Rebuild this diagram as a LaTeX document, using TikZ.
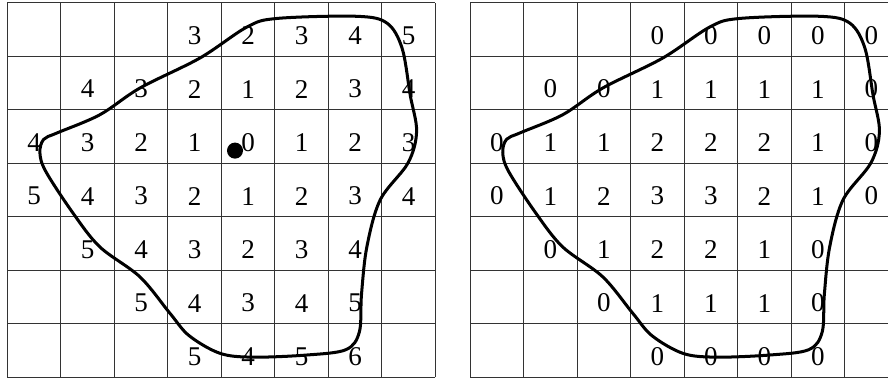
\documentclass[tikz,border=0pt]{standalone}
\usepackage{fontspec}
\setmainfont{Liberation Serif}
\usetikzlibrary{positioning}

\tikzset{
  num/.style={font=\fontsize{14.4}{17}\selectfont, inner sep=0pt},
  gridlines/.style={draw=black!80, line width=0.55pt},
  blob/.style={line width=1.6pt, line join=round}
}
% closed region drawn over each grid
\newcommand{\blobline}{%
  \draw[blob] plot[smooth cycle, tension=0.55] coordinates {
    (0.93,4.57) (0.68,4.45) (0.61,4.20) (0.72,3.85) (1.23,3.07)
    (1.73,2.44) (2.48,1.88) (3.04,1.20) (3.40,0.78) (3.98,0.45)
    (4.60,0.38) (5.60,0.42) (6.33,0.52) (6.58,0.85) (6.62,1.55)
    (6.72,2.44) (6.97,3.32) (7.49,4.01) (7.65,4.60) (7.53,5.28)
    (7.38,6.15) (7.10,6.62) (6.54,6.75) (5.04,6.71) (4.48,6.55)
    (3.60,5.97) (2.48,5.41) (1.73,4.91)};
}

\begin{document}
\begin{tikzpicture}
  \useasboundingbox (-0.136,-0.013) rectangle (16.46,7.055);
  \clip (-0.136,-0.013) rectangle (16.46,7.055);

  % left grid: distances
  \draw[gridlines] (0,0) grid (8,7);
  \foreach \vals [count=\r] in {{x,x,x,3,2,3,4,5},{x,4,3,2,1,2,3,4},{4,3,2,1,0,1,2,3},
      {5,4,3,2,1,2,3,4},{x,5,4,3,2,3,4,x},{x,x,5,4,3,4,5,x},{x,x,x,5,4,5,6,x}}{
    \foreach \v [count=\c] in \vals {
      \if x\v\else \node[num] (dist-\r-\c) at (\c-0.5,7.39-\r) {\v}; \fi
    }
  }
  \blobline
  \node[circle, fill, inner sep=0pt, minimum size=0.3cm] (seed) at (4.256,4.24) {};

  % right grid
  \begin{scope}[xshift=8.65cm]
    \draw[gridlines] (0,0) grid (8,7);
    \foreach \vals [count=\r] in {{x,x,x,0,0,0,0,0},{x,0,0,1,1,1,1,0},{0,1,1,2,2,2,1,0},
        {0,1,2,3,3,2,1,0},{x,0,1,2,2,1,0,x},{x,x,0,1,1,1,0,x},{x,x,x,0,0,0,0,x}}{
      \foreach \v [count=\c] in \vals {
        \if x\v\else \node[num] (depth-\r-\c) at (\c-0.5,7.39-\r) {\v}; \fi
      }
    }
    \blobline
  \end{scope}
\end{tikzpicture}
\end{document}
